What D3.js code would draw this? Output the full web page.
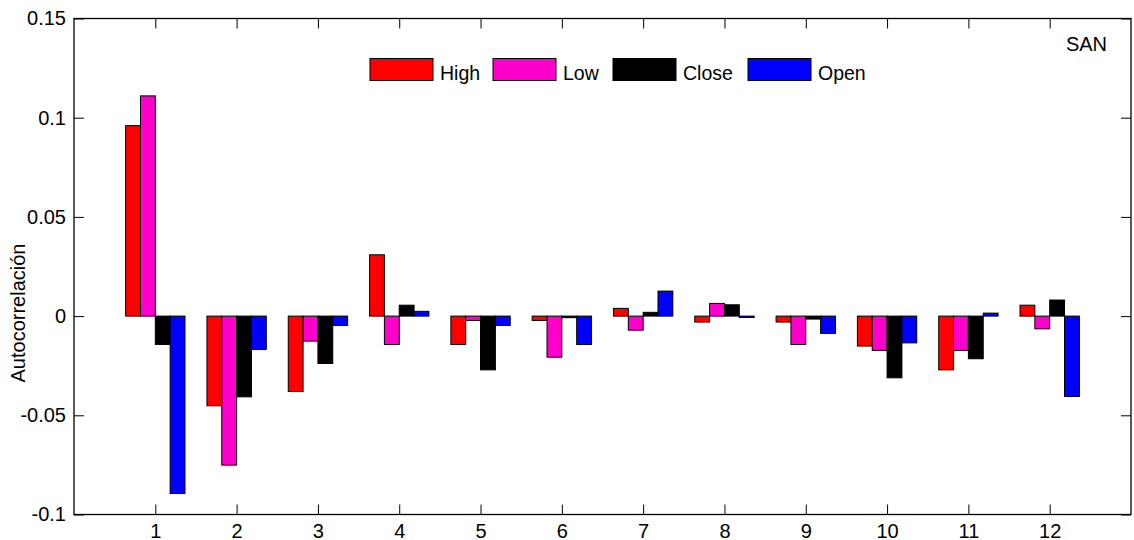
<!DOCTYPE html>
<html>
<head>
<meta charset="utf-8">
<script src="https://cdn.jsdelivr.net/npm/d3@7"></script>
<style>
  body { margin: 0; background: #fff; }
  svg { display: block; font-family: "Liberation Sans", Arial, sans-serif; }
</style>
</head>
<body>
<div id="chart"></div>
<script>
// Data
const lags = [1, 2, 3, 4, 5, 6, 7, 8, 9, 10, 11, 12];
const seriesNames = ["High", "Low", "Close", "Open"];
const seriesColors = ["#ff0000", "#ff00cc", "#000000", "#0000ff"];
const high  = [0.0960, -0.0452, -0.0380, 0.0309, -0.0143, -0.0022, 0.0039, -0.0030, -0.0030, -0.0151, -0.0271, 0.0055];
const low   = [0.1110, -0.0751, -0.0126, -0.0143, -0.0022, -0.0207, -0.0071, 0.0064, -0.0143, -0.0173, -0.0173, -0.0064];
const close = [-0.0143, -0.0407, -0.0239, 0.0055, -0.0271, -0.0008, 0.0019, 0.0057, -0.0015, -0.0311, -0.0215, 0.0081];
const open  = [-0.0894, -0.0168, -0.0047, 0.0024, -0.0047, -0.0143, 0.0126, -0.0007, -0.0087, -0.0135, 0.0015, -0.0405];
const yTicks = [-0.1, -0.05, 0, 0.05, 0.1, 0.15];
const yTickLabels = ["-0.1", "-0.05", "0", "0.05", "0.1", "0.15"];

const series = [high, low, close, open];

const W = 1134, H = 540;
const plotL = 74, plotR = 1131, plotT = 18.5, plotB = 514.5;
const fontSize = 20;

const svg = d3.select("#chart")
    .append("svg")
    .attr("width", W)
    .attr("height", H);

const x = d3.scaleLinear().domain([0, 13]).range([plotL, plotR]);
const y = d3.scaleLinear().domain([-0.1, 0.15]).range([plotB, plotT]);

// grouped bars, touching, MATLAB style group width
const groupWidth = 0.73;
const barW = groupWidth / series.length;

series.forEach((vals, s) => {
    svg.append("g")
        .selectAll("rect")
        .data(vals)
        .join("rect")
        .attr("x", (d, i) => x(lags[i] - groupWidth / 2 + s * barW))
        .attr("y", d => y(Math.max(0, d)))
        .attr("width", x(barW) - x(0))
        .attr("height", d => Math.abs(y(d) - y(0)))
        .attr("fill", seriesColors[s])
        .attr("stroke", "#000")
        .attr("stroke-width", 1);
});

// axes box
const tick = 10;
svg.append("rect")
    .attr("x", plotL).attr("y", plotT)
    .attr("width", plotR - plotL).attr("height", plotB - plotT)
    .attr("fill", "none").attr("stroke", "#000").attr("stroke-width", 1.3);

const yAxis = svg.append("g")
    .attr("transform", `translate(${plotL},0)`)
    .call(d3.axisLeft(y).tickValues(yTicks)
        .tickFormat((d, i) => yTickLabels[i])
        .tickSizeInner(-tick).tickSizeOuter(0).tickPadding(8));

const yAxisR = svg.append("g")
    .attr("transform", `translate(${plotR},0)`)
    .call(d3.axisRight(y).tickValues(yTicks)
        .tickFormat("").tickSizeInner(-tick).tickSizeOuter(0));

const xAxis = svg.append("g")
    .attr("transform", `translate(0,${plotB})`)
    .call(d3.axisBottom(x).tickValues(lags)
        .tickFormat(d3.format("d"))
        .tickSizeInner(-tick).tickSizeOuter(0).tickPadding(9));

const xAxisT = svg.append("g")
    .attr("transform", `translate(0,${plotT})`)
    .call(d3.axisTop(x).tickValues(lags)
        .tickFormat("").tickSizeInner(-tick).tickSizeOuter(0));

[yAxis, yAxisR, xAxis, xAxisT].forEach(g => {
    g.select(".domain").remove();
    g.selectAll("line").attr("stroke", "#000");
    g.selectAll("text")
        .attr("font-family", "Liberation Sans, Arial, sans-serif")
        .attr("font-size", fontSize)
        .attr("fill", "#000");
});

// y label
svg.append("text")
    .attr("transform", "translate(25,313) rotate(-90)")
    .attr("text-anchor", "middle")
    .attr("font-size", fontSize)
    .text("Autocorrelación");

// SAN label
svg.append("text")
    .attr("x", 1107).attr("y", 51)
    .attr("text-anchor", "end")
    .attr("font-size", fontSize)
    .text("SAN");

// legend
const legendX = [370, 493, 613, 748];
const legend = svg.append("g");
seriesNames.forEach((name, s) => {
    legend.append("rect")
        .attr("x", legendX[s]).attr("y", 58.5)
        .attr("width", 63).attr("height", 22)
        .attr("fill", seriesColors[s])
        .attr("stroke", "#000").attr("stroke-width", 1);
    legend.append("text")
        .attr("x", legendX[s] + 70).attr("y", 79.5)
        .attr("font-size", 19.5)
        .text(name);
});
</script>
</body>
</html>
